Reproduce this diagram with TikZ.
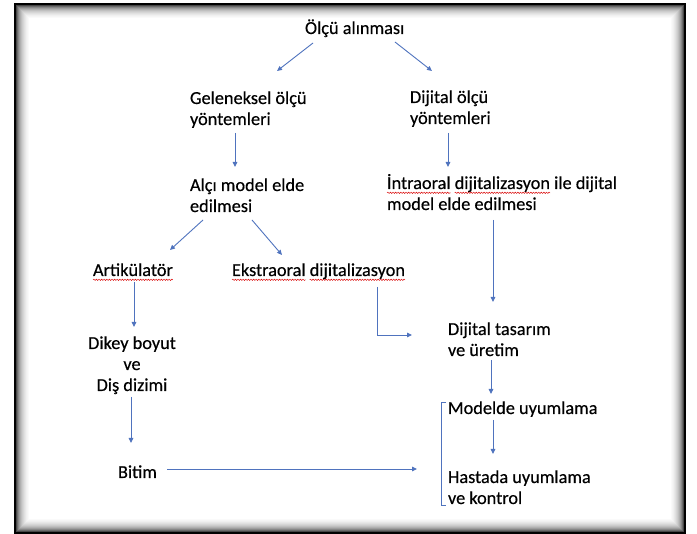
\documentclass[tikz,border=0pt]{standalone}
\usepackage{fontspec}
\setmainfont{Carlito}[UprightFeatures={FakeBold=0.35}]
\usetikzlibrary{arrows.meta,decorations.pathmorphing}
\definecolor{arr}{RGB}{79,115,190}
\newcommand\spellwave[1]{\setbox0\hbox{#1}\rlap{\copy0}\tikz[baseline=0pt,x=1pt,y=1pt]{\useasboundingbox (0pt,0pt) rectangle (\the\wd0,0pt);
  \draw[red!85!black,line width=0.45pt,decorate,decoration={snake,amplitude=0.7pt,segment length=2.6pt}] (0pt,-3.8pt) -- (\the\wd0,-3.8pt);}}
\newcommand\textlines[1]{\vtop{\baselineskip=21pt\lineskiplimit=-20pt\halign{##\hfil\cr#1\crcr}}}
\newcommand\textlinesC[1]{\vtop{\baselineskip=21pt\lineskiplimit=-20pt\halign{\hfil##\hfil\cr#1\crcr}}}
\begin{document}
\begin{tikzpicture}[x=1pt,y=-1pt,
  txt/.style={inner sep=0pt,outer sep=0pt,font=\fontsize{18.3}{21}\selectfont,anchor=base west},
  arrow/.style={draw=arr,line width=0.9pt,-{Triangle[length=5pt,width=4.5pt]}},
  bracketline/.style={draw=arr,line width=0.9pt}]
\useasboundingbox (0,0) rectangle (697,534);
\fill[white] (0,0) rectangle (697,534);
% framed border with inner shadow
\fill[black] (14,3) rectangle (686,534);
\foreach \i/\p in {2/72,3/58,4/47,5/38,6/31,7/25,8/20,9/16,10/12,11/9,12/6,13/4,14/2,15/0}
  \fill[black!\p] ({14+\i},{3+\i}) rectangle ({686-\i},{534-\i});
% nodes
\node[txt] (top) at (305,34) {Ölçü alınması};
\node[txt] (gel) at (190,104) {\textlines{Geleneksel ölçü\cr yöntemleri}};
\node[txt] (dij) at (410,103) {\textlines{Dijital ölçü\cr yöntemleri}};
\node[txt] (alci) at (190,191) {\textlines{Alçı model elde\cr edilmesi}};
\node[txt] (intra) at (387,189) {\textlines{\spellwave{İntraoral} \spellwave{dijitalizasyon} ile dijital\cr model elde edilmesi}};
\node[txt] (art) at (93,276) {\spellwave{Artikülatör}};
\node[txt] (ekstra) at (232,276) {\spellwave{Ekstraoral} \spellwave{dijitalizasyon}};
\node[txt,anchor=base] (dikey) at (132,349) {\textlinesC{Dikey boyut\cr ve\cr Diş dizimi}};
\node[txt] (bitim) at (118,478) {Bitim};
\node[txt] (tasarim) at (448,335) {\textlines{Dijital tasarım\cr ve üretim}};
\node[txt] (modelde) at (448,414) {Modelde uyumlama};
\node[txt] (hasta) at (448,483) {\textlines{Hastada uyumlama\cr ve kontrol}};
% connectors
\draw[arrow] ([shift={(8,9)}]top.base west) -- ([shift={(87,-33)}]gel.base west);
\draw[arrow] ([shift={(90,8)}]top.base west) -- ([shift={(22,-32)}]dij.base west);
\draw[arrow] ([shift={(45,29)}]gel.base west) -- ([shift={(45,-24)}]alci.base west);
\draw[arrow] ([shift={(38,30)}]dij.base west) -- ([shift={(61,-22)}]intra.base west);
\draw[arrow] ([shift={(13,29)}]alci.base west) -- ([shift={(77,-26)}]art.base west);
\draw[arrow] ([shift={(62,29)}]alci.base west) -- ([shift={(50,-21)}]ekstra.base west);
\draw[arrow] ([shift={(106,31)}]intra.base west) -- ([shift={(45,-33)}]tasarim.base west);
\draw[arrow] ([shift={(145,11)}]ekstra.base west) |- ([shift={(-36,0)}]tasarim.base west);
\draw[arrow] ([shift={(41,6)}]art.base west) -- ([shift={(2,-22)}]dikey.base);
\draw[arrow] ([shift={(-1,48)}]dikey.base) -- ([shift={(13,-35)}]bitim.base west);
\draw[arrow] ([shift={(49,-9)}]bitim.base west) -- ([shift={(-31,-14)}]hasta.base west);
\draw[arrow] ([shift={(43,25)}]tasarim.base west) -- ([shift={(43,-20)}]modelde.base west);
\draw[arrow] ([shift={(45,6)}]modelde.base west) -- ([shift={(45,-29)}]hasta.base west);
\draw[bracketline] ([shift={(-2,-12)}]modelde.base west) -- ([shift={(-7,-12)}]modelde.base west)
  -- ([shift={(-7,22)}]hasta.base west) -- ([shift={(-2,22)}]hasta.base west);
\end{tikzpicture}
\end{document}
